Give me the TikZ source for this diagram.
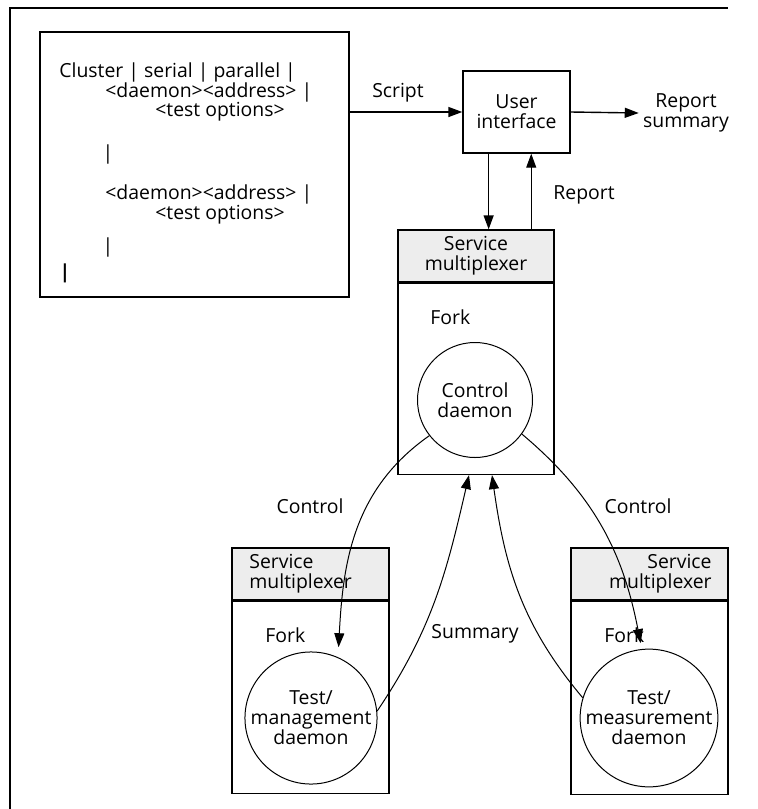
\documentclass[tikz,border=0pt]{standalone}
\usepackage{fontspec}
\setmainfont{Open Sans}
\usetikzlibrary{arrows.meta,calc}
\begin{document}
\begin{tikzpicture}[x=0.5pt,y=-0.5pt,
  every node/.style={font=\fontsize{9.7}{10}\selectfont, inner sep=0pt},
  box/.style={draw, line width=0.7pt, inner sep=0pt},
  headbox/.style={box, fill=black!7},
  daemon/.style={draw, circle, line width=0.5pt, minimum size=57.5pt, align=center, inner sep=0pt},
  arr/.style={line width=0.7pt, -{Triangle[length=7pt,width=5pt]}},
  flow/.style={line width=0.5pt, -{Triangle[length=7pt,width=5pt]}},
  txt/.style={anchor=base west}]
\useasboundingbox (0,0) rectangle (758,809);

% frame
\draw[line width=0.7pt] (10,809) -- (10,8) -- (728,8);

% script box and its contents
\node[box, minimum width=154.5pt, minimum height=132.5pt] (script) at (194.5,164.5) {};
\node[txt] (l1) at (59,77) {Cluster | serial | parallel |};
\node[txt] (l2) at (105,97) {<daemon><address> |};
\node[txt] (l3) at (155,116) {<test options>};
\node (l4) at (108,154) {|};
\node[txt] (l5) at (105,199) {<daemon><address> |};
\node[txt] (l6) at (155,219) {<test options>};
\node (l7) at (108,247) {|};
\node (l8) at (65,273) {\bfseries |};

% user interface
\node[box, minimum width=53.5pt, minimum height=41pt, align=center] (ui) at (516.5,112) {User\\interface};
\node[align=center, inner sep=2pt] (rs) at (686,113) {Report\\summary};
\node (scriptlbl) at (398,93) {Script};

\draw[arr] (script.east |- ui.west) -- (ui.west);
\draw[arr] (ui.east) -- (rs.west);

% main service multiplexer
\node[headbox, minimum width=78pt, minimum height=26pt, align=center] (mh) at (476,256) {Service\\multiplexer};
\node[box, minimum width=78pt, minimum height=95.5pt, anchor=north] (mb) at (mh.south) {};
\node[anchor=west] (f0) at (430,317) {Fork};
\node[daemon] (ctl) at (475,400) {Control\\daemon};

\coordinate (d1) at ($(ui.south west)!0.243!(ui.south east)$);
\coordinate (d2) at ($(ui.south west)!0.636!(ui.south east)$);
\draw[arr] (d1) -- (d1 |- mh.north);
\draw[flow] (d2 |- mh.north) -- (d2);
\node[anchor=west] (replbl) at (553,195) {Report};

% left service multiplexer
\node[headbox, minimum width=78.5pt, minimum height=26pt] (lh) at (310.5,574) {};
\node[anchor=west, align=left] (lht) at (249,574) {Service\\multiplexer};
\node[box, minimum width=78.5pt, minimum height=96pt, anchor=north] (lb) at (lh.south) {};
\node[anchor=west] (f1) at (265,635) {Fork};
\node[daemon] (tm) at (311,718) {Test/\\management\\daemon};

% right service multiplexer
\node[headbox, minimum width=78.5pt, minimum height=26pt] (rh) at (649.5,574) {};
\node[anchor=east, align=right] (rht) at (712,574) {Service\\multiplexer};
\node[box, minimum width=78.5pt, minimum height=96.5pt, anchor=north] (rb) at (rh.south) {};
\node[anchor=west] (f2) at (604,635) {Fork};
\node[daemon] (tms) at (649,718) {Test/\\measurement\\daemon};

% control and summary flows
\coordinate (s1) at ($(mb.south)+(-7,0)$);
\coordinate (s2) at ($(mb.south)+(16,0)$);
\draw[flow, shorten >=5pt] (ctl.218) to[out=215, in=87] (tm.66);
\draw[flow, shorten >=3pt] (ctl.-36) to[out=-40, in=101] (tms.96);
\draw[flow] (tm.6) to[out=56, in=-103] (s1);
\draw[flow] (tms.163) to[out=130, in=-82] (s2);

\node (c1) at (310,506) {Control};
\node (c2) at (638,506) {Control};
\node (sum) at (475,634) {Summary};
\end{tikzpicture}
\end{document}
